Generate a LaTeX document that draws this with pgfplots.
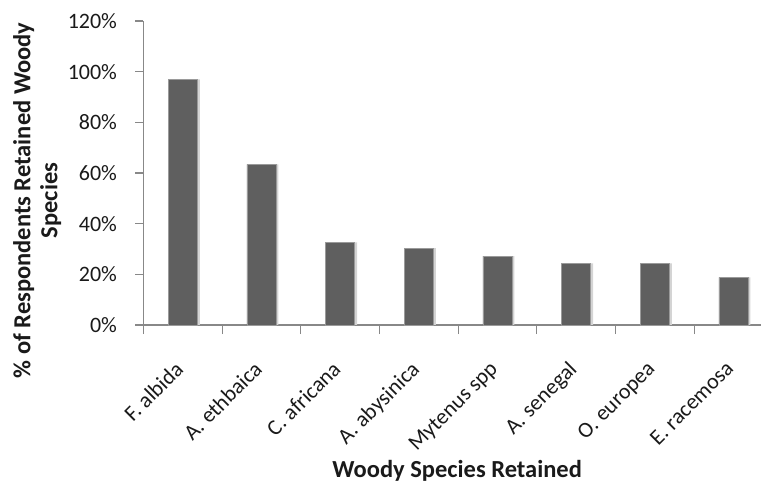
\documentclass[border=0pt]{standalone}
\usepackage{pgfplots}
\pgfplotsset{compat=1.18}
\usepackage{fontspec}
\setmainfont{Carlito}
\definecolor{barfill}{HTML}{5F5F5F}
\definecolor{baredge}{HTML}{9A9A9A}
\definecolor{axisgray}{HTML}{888888}
\definecolor{shadowgray}{HTML}{D4D4D4}
\definecolor{textgray}{HTML}{1A1A1A}
\pgfplotstableread{
x val
0 97.0
1 63.4
2 32.6
3 30.3
4 27.2
5 24.3
6 24.3
7 18.8
}\datatable
\begin{document}
\begin{tikzpicture}[x=1pt,y=1pt]
\useasboundingbox (0,0) rectangle (761,485);
\begin{axis}[
  at={(143.5pt,160pt)}, anchor=south west,
  scale only axis, width=617.5pt, height=304pt,
  xmin=-0.5, xmax=7.35, ymin=0, ymax=120,
  axis x line*=bottom, axis y line*=left,
  axis line style={draw=axisgray, line width=1.2pt, -},
  every tick/.style={draw=axisgray, line width=1.2pt},
  tick align=outside,
  xtick={0,...,7},
  xticklabels={F. albida, A. ethbaica, C. africana, A. abysinica, Mytenus spp, A. senegal, O. europea, E. racemosa},
  major x tick style={draw=none},
  minor xtick={-0.5,0.5,...,6.5},
  minor tick length=9pt,
  major tick length=8pt,
  ytick={0,20,...,120},
  yticklabel={\pgfmathprintnumber{\tick}\%},
  /pgf/number format/assume math mode=true,
  tick label style={font=\fontsize{22}{26}\selectfont, text=textgray},
  xticklabel style={xshift=-9pt, yshift=-22pt, rotate=45, anchor=north east},
  yticklabel style={xshift=-15pt},
  xlabel={Woody Species Retained},
  xlabel style={at={(axis description cs:0.508,-0.48)}, anchor=center, font=\bfseries\fontsize{24.5}{28}\selectfont, text=textgray},
  ylabel={\% of Respondents Retained Woody\\Species},
  ylabel style={at={(axis description cs:-0.172,0.41)}, anchor=center, rotate=0, align=center, font=\bfseries\fontsize{24.5}{27}\selectfont, text=textgray},
  ybar, bar width=29pt,
  clip=false,
]
\addplot[ybar, bar shift=2.5pt, fill=shadowgray, draw=none] table[x=x,y=val]{\datatable};
\addplot[ybar, bar shift=0pt, fill=barfill, draw=baredge, line width=0.8pt] table[x=x,y=val]{\datatable};
\end{axis}
\end{tikzpicture}
\end{document}
